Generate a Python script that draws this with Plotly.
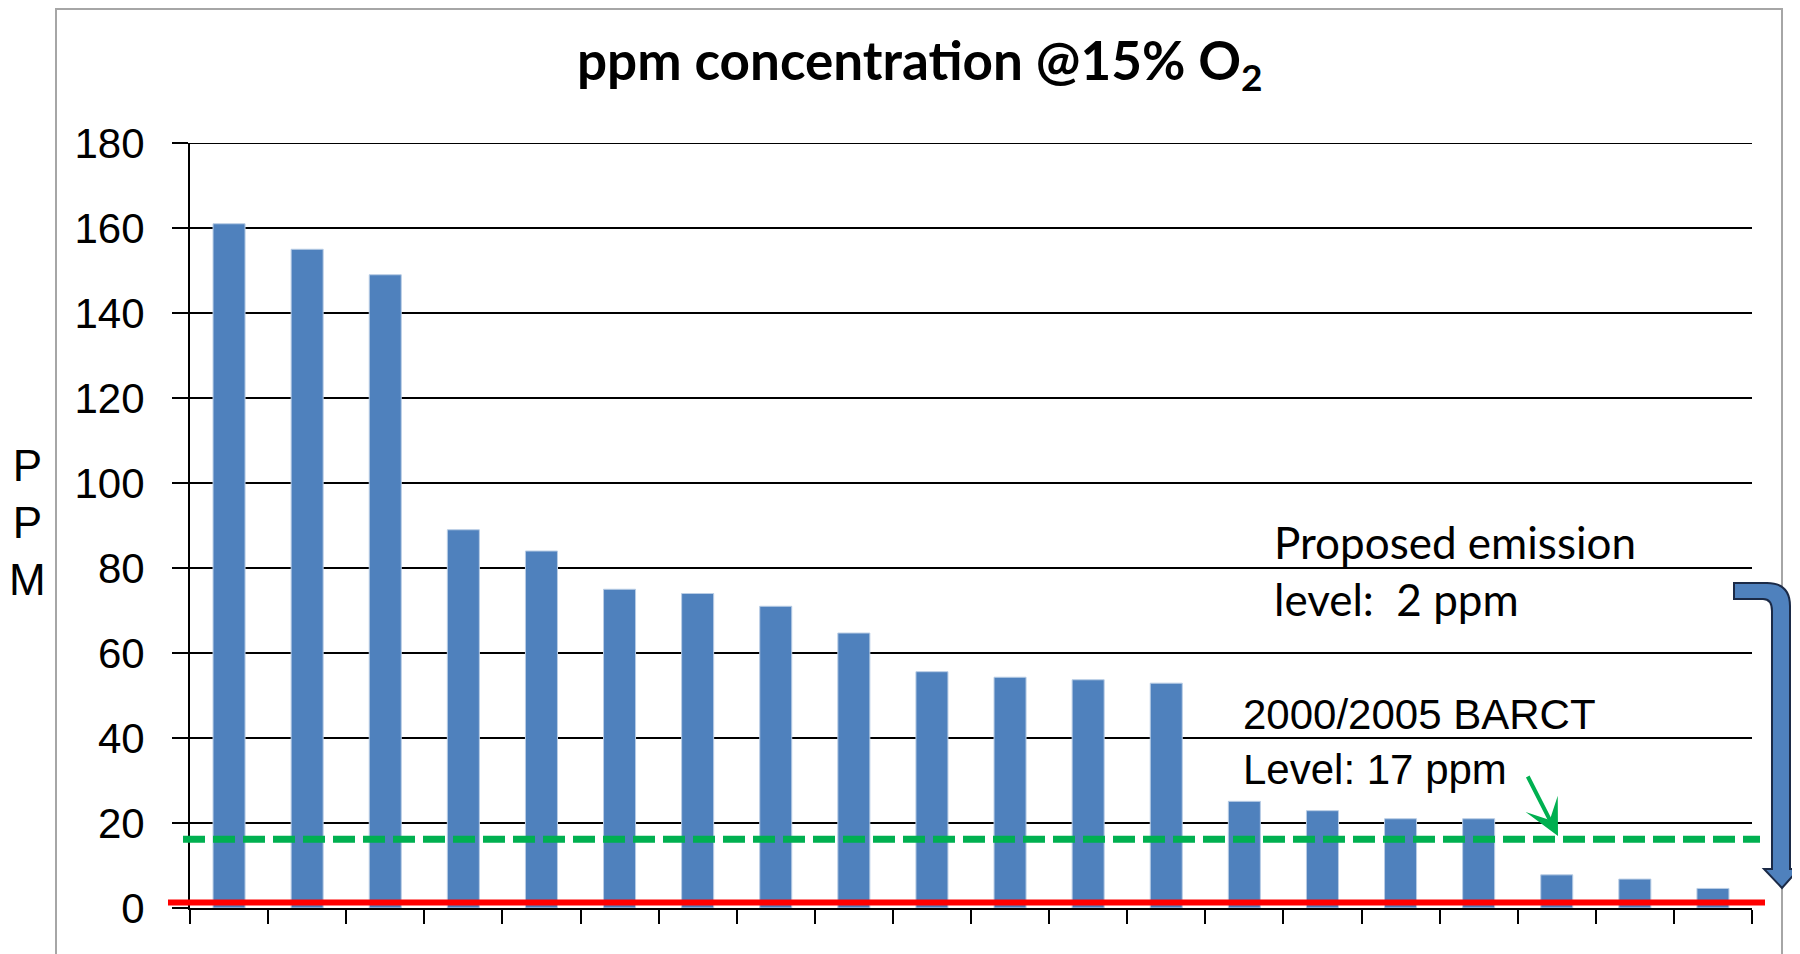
import plotly.graph_objects as go

# ---- data ----
categories = [str(i) for i in range(1, 21)]
ppm_values = [161, 155, 149, 89, 84, 75, 74, 71, 64.7, 55.6, 54.3, 53.7, 52.9,
              25.1, 22.9, 21, 21, 7.8, 6.8, 4.6]
y_ticks = [0, 20, 40, 60, 80, 100, 120, 140, 160, 180]
y_max = 180
barct_level = 16.2      # drawn level of the 2000/2005 BARCT line (labelled 17 ppm)
proposed_level = 1.3    # drawn level of the proposed emission line (labelled 2 ppm)

# the page body has an 8px margin, so the figure starts at (8, 8) on the page
OFF = 8
W, H = 1792, 946
PLOT_L, PLOT_R, PLOT_T, PLOT_B = 190, 1752, 143, 908   # page pixel positions of the plot area
L, T = PLOT_L - OFF, PLOT_T - OFF
R = W - (PLOT_R - OFF)
B = H - (PLOT_B - OFF)
PW, PH = W - L - R, H - T - B


def xp(px):
    """page pixel x -> paper x"""
    return (px - OFF - L) / PW


def yp(py):
    """page pixel y -> paper y"""
    return (H - B - (py - OFF)) / PH


fig = go.Figure()
fig.add_trace(go.Bar(
    x=categories, y=ppm_values,
    marker=dict(color="#4F81BD", line=dict(color="#B9CDE5", width=1)),
    width=0.41,
))

shapes = []
# outer grey frame
shapes.append(dict(type="rect", xref="paper", yref="paper",
                   x0=xp(56), x1=xp(1782), y0=yp(9), y1=yp(1010),
                   line=dict(color="#A6A6A6", width=2), fillcolor="rgba(0,0,0,0)",
                   layer="below"))
# top gridline (at the range edge)
shapes.append(dict(type="line", xref="paper", yref="y", x0=0, x1=1,
                   y0=y_max, y1=y_max, line=dict(color="black", width=2),
                   layer="below"))
# BARCT dashed green line
shapes.append(dict(type="line", xref="paper", yref="y",
                   x0=xp(183), x1=xp(1760), y0=barct_level, y1=barct_level,
                   line=dict(color="#00B050", width=7, dash="22px,8px")))
# proposed red line
shapes.append(dict(type="line", xref="paper", yref="y",
                   x0=xp(168), x1=xp(1765), y0=proposed_level, y1=proposed_level,
                   line=dict(color="#FF0000", width=6)))

# curved blue arrow (page pixel geometry converted to paper)
pts = [("M", 1734, 583), ("L", 1767, 583), ("Q", 1790, 583, 1790, 606),
       ("L", 1790, 869), ("L", 1799, 869), ("L", 1782, 888), ("L", 1764, 869),
       ("L", 1772, 869), ("L", 1772, 611), ("Q", 1772, 599, 1763, 599),
       ("L", 1734, 599)]
path = ""
for p in pts:
    cmd = p[0]
    coords = p[1:]
    s = []
    for i in range(0, len(coords), 2):
        s.append(f"{xp(coords[i]):.5f},{yp(coords[i+1]):.5f}")
    path += cmd + " " + " ".join(s) + " "
path += "Z"
shapes.append(dict(type="path", xref="paper", yref="paper", path=path,
                   fillcolor="#4F81BD", line=dict(color="#1B2A47", width=2)))

annotations = []
annotations.append(dict(xref="paper", yref="paper", x=xp(920), y=yp(64),
                        text="<b>ppm concentration @15% O<sub>2</sub></b>",
                        showarrow=False, xanchor="center", yanchor="middle",
                        font=dict(family="Lato", size=53, color="black")))
annotations.append(dict(xref="paper", yref="paper", x=xp(27), y=yp(522),
                        text="P<br>P<br>M", showarrow=False,
                        xanchor="center", yanchor="middle",
                        font=dict(family="Liberation Sans", size=44, color="black")))
annotations.append(dict(xref="paper", yref="paper", x=xp(1272), y=yp(570),
                        text="Proposed emission<br>level:\u00a0 2 ppm",
                        showarrow=False, xanchor="left", yanchor="middle", align="left",
                        font=dict(family="Lato", size=44, color="black")))
annotations.append(dict(xref="paper", yref="paper", x=xp(1241), y=yp(742),
                        text="2000/2005 BARCT<br>Level: 17 ppm",
                        showarrow=False, xanchor="left", yanchor="middle", align="left",
                        font=dict(family="Liberation Sans", size=42, color="black")))
# green pointer arrow to the BARCT line
annotations.append(dict(xref="paper", yref="paper", x=xp(1558), y=yp(836),
                        ax=-31, ay=-61, text="", showarrow=True,
                        arrowhead=3, arrowsize=1.5, arrowwidth=4, arrowcolor="#00B050"))

fig.update_layout(
    width=W, height=H,
    margin=dict(l=L, r=R, t=T, b=B),
    paper_bgcolor="white", plot_bgcolor="white",
    showlegend=False,
    shapes=shapes, annotations=annotations,
    xaxis=dict(type="category", showticklabels=False, showgrid=False,
               tickson="boundaries", ticks="outside", ticklen=14, tickwidth=2,
               tickcolor="black", showline=True, linecolor="black", linewidth=2,
               zeroline=False),
    yaxis=dict(range=[0, y_max], tickvals=y_ticks, showgrid=True, gridcolor="black",
               gridwidth=2, showline=True, linecolor="black", linewidth=2,
               ticks="outside", ticklen=16, tickwidth=2, tickcolor="black",
               zeroline=False, ticklabelstandoff=19,
               tickfont=dict(family="Liberation Sans", size=42, color="black")),
)

fig.write_html("out.html")
